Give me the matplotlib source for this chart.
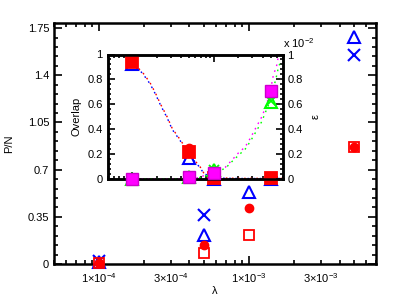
import matplotlib
matplotlib.use("Agg")
import matplotlib.pyplot as plt
import numpy as np
from matplotlib.ticker import FixedLocator, LogLocator, FuncFormatter, NullFormatter, MultipleLocator

plt.rcParams['font.family'] = ['Liberation Sans', 'DejaVu Sans']
plt.rcParams['font.size'] = 8
plt.rcParams['mathtext.fontset'] = 'custom'
plt.rcParams['mathtext.rm'] = 'Liberation Sans'

# ---- data ----
lam = [1e-4, 5e-4, 1e-3, 5e-3]

# main panel: P/N
pn_blue_tri = [0.015, 0.215, 0.536, 1.685]
pn_blue_x = [0.025, 0.363, 0.95, 1.55]
pn_red_circ = [0.01, 0.141, 0.413, 0.87]
pn_red_sq = [0.005, 0.08, 0.215, 0.87]

# inset: Overlap
ov_red_circ = [0.94, 0.245, 0.01, 0.01]
ov_red_sq = [0.94, 0.22, 0.01, 0.01]
ov_blue_tri = [0.925, 0.165, 0.0, 0.0]
ov_blue_x = [0.93, 0.20, 0.0, 0.0]

# inset: epsilon (absolute units)
eps_mag_sq = [0.0, 0.0002, 0.0005, 0.0071]
eps_green_tri = [0.0, 0.0002, 0.0007, 0.0062]
eps_green_x = [0.0, 0.0002, 0.0007, 0.0063]

# dotted fit curves
ov_curve_lam = [1.0e-4, 1.34e-4, 1.66e-4, 1.95e-4, 2.24e-4, 2.70e-4, 3.11e-4, 3.93e-4,
                5.06e-4, 6.89e-4, 7.55e-4, 1.0e-3, 2.0e-3, 5.0e-3, 7.0e-3]
ov_curve_red = [0.94, 0.858, 0.774, 0.686, 0.60, 0.498, 0.406, 0.312,
                0.20, 0.094, 0.05, 0.01, 0.005, 0.005, 0.005]
ov_curve_blue = [0.93, 0.850, 0.765, 0.678, 0.592, 0.490, 0.398, 0.304,
                 0.19, 0.088, 0.045, 0.008, 0.004, 0.004, 0.004]

eps_curve_lam = [1.0e-4, 3.0e-4, 6.0e-4, 7.9e-4, 1.39e-3, 1.68e-3, 2.02e-3, 2.44e-3,
                 2.81e-3, 3.38e-3, 3.89e-3, 4.35e-3, 4.91e-3, 5.39e-3, 5.93e-3, 6.21e-3, 6.5e-3]
eps_curve_mag = [0.0, 0.0, 0.00005, 0.0003, 0.00094, 0.00152, 0.0021, 0.00258,
                 0.00326, 0.00424, 0.00498, 0.00578, 0.0069, 0.0083, 0.0091, 0.0098, 0.0102]
eps_curve_green = [0.0, 0.0, 0.00003, 0.00025, 0.00085, 0.0014, 0.0019, 0.0024,
                   0.0030, 0.0039, 0.0046, 0.0054, 0.0062, 0.0072, 0.0083, 0.0089, 0.0093]

yticks_main = [0, 0.35, 0.7, 1.05, 1.4, 1.75]
yticklabels_main = ['0', '0.35', '0.7', '1.05', '1.4', '1.75']
xticks_labeled = {1e-4: r'1$\times$10$^{-4}$', 3e-4: r'3$\times$10$^{-4}$',
                  1e-3: r'1$\times$10$^{-3}$', 3e-3: r'3$\times$10$^{-3}$'}
inset_ticks = [0, 0.2, 0.4, 0.6, 0.8, 1.0]
inset_labels = ['0', '0.2', '0.4', '0.6', '0.8', '1']

W, H = 415, 298
fig = plt.figure(figsize=(W / 100, H / 100), dpi=100)

# ---- main axes ----
ax = fig.add_axes([54 / W, 1 - 264 / H, (376 - 54) / W, (264 - 22.7) / H])
ax.set_xscale('log')
ax.set_xlim(5e-5, 7e-3)
ax.set_ylim(0, 1.79)

blue = '#0000ff'
red = '#ff0000'
mag = '#ff00ff'
green = '#00ff00'

ax.plot(lam, pn_blue_tri, ls='none', marker='^', ms=9, mfc='none', mec=blue, mew=1.5, clip_on=False, zorder=3)
ax.plot(lam, pn_blue_x, ls='none', marker='x', ms=8, mec=blue, mew=1.5, clip_on=False, zorder=3)
ax.plot(lam, pn_red_sq, ls='none', marker='s', ms=7, mfc='none', mec=red, mew=1.3, clip_on=False, zorder=3)
ax.plot(lam, pn_red_circ, ls='none', marker='o', ms=6, mfc=red, mec=red, clip_on=False, zorder=3)

ax.xaxis.set_major_locator(FixedLocator([1e-4, 1e-3]))
ax.xaxis.set_minor_locator(LogLocator(base=10, subs=np.arange(2, 10)))
def fmt(v, pos):
    for k, s in xticks_labeled.items():
        if abs(v - k) / k < 1e-6:
            return s
    return ''
ax.xaxis.set_major_formatter(FuncFormatter(fmt))
ax.xaxis.set_minor_formatter(FuncFormatter(fmt))
ax.set_yticks(yticks_main)
ax.set_yticklabels(yticklabels_main)
ax.yaxis.set_minor_locator(MultipleLocator(0.07))
ax.tick_params(which='both', direction='in', top=True, right=True, width=1.2)
ax.tick_params(which='major', length=6)
ax.tick_params(which='minor', length=3)
ax.tick_params(axis='x', which='both', pad=5)
for s in ax.spines.values():
    s.set_linewidth(1.8)
ax.set_xlabel('λ', labelpad=1)
ax.set_ylabel('P/N', labelpad=10)

# ---- inset ----
ins = fig.add_axes([107.5 / W, 1 - 179 / H, (282.5 - 107.5) / W, (179 - 54.5) / H])
ins.set_facecolor('white')
ins.set_xscale('log')
ins.set_xlim(5e-5, 7e-3)
ins.set_ylim(0, 1)
ins.xaxis.set_major_locator(LogLocator(base=10))
ins.xaxis.set_minor_locator(LogLocator(base=10, subs=np.arange(2, 10)))
ins.xaxis.set_major_formatter(NullFormatter())
ins.xaxis.set_minor_formatter(NullFormatter())
ins.set_yticks(inset_ticks)
ins.set_yticklabels(inset_labels)
ins.yaxis.set_minor_locator(MultipleLocator(0.04))
ins.tick_params(which='both', direction='in', top=True, width=1.2)
ins.tick_params(which='major', length=5)
ins.tick_params(which='minor', length=2.5)
for s in ins.spines.values():
    s.set_linewidth(1.8)
ins.set_ylabel('Overlap', labelpad=4)

dots = (0, (1.2, 3.2))
dots2 = (2, (1.2, 3.2))
ins.plot(ov_curve_lam, ov_curve_blue, ls=dots, lw=1.0, color=blue, zorder=2)
ins.plot(ov_curve_lam, ov_curve_red, ls=dots2, lw=1.0, color=red, zorder=2)
ins.plot(lam, ov_blue_tri, ls='none', marker='^', ms=9, mfc='none', mec=blue, mew=1.5, clip_on=False, zorder=4)
ins.plot(lam, ov_blue_x, ls='none', marker='x', ms=7, mec=blue, mew=1.3, clip_on=False, zorder=4)
ins.plot(lam, ov_red_sq, ls='none', marker='s', ms=8, mfc=red, mec=red, mew=1.3, clip_on=False, zorder=4)
ins.plot(lam, ov_red_circ, ls='none', marker='o', ms=6, mfc=red, mec=red, clip_on=False, zorder=4)

ins2 = ins.twinx()
ins2.set_ylim(0, 1)
ins2.set_yticks(inset_ticks)
ins2.set_yticklabels(inset_labels)
ins2.yaxis.set_minor_locator(MultipleLocator(0.04))
ins2.tick_params(which='both', direction='in', width=1.2)
ins2.tick_params(which='major', length=5)
ins2.tick_params(which='minor', length=2.5)
for s in ins2.spines.values():
    s.set_linewidth(1.8)
ins2.set_ylabel('ε', labelpad=6)
ins2.text(1.0, 1.035, r'x 10$^{-2}$', transform=ins2.transAxes, ha='left', va='bottom')

sc = 1e-2
ins2.plot(eps_curve_lam, np.array(eps_curve_green) / sc, ls=dots, lw=1.0, color=green, zorder=2)
ins2.plot(eps_curve_lam, np.array(eps_curve_mag) / sc, ls=dots2, lw=1.0, color=mag, zorder=2)
ins2.plot(lam, np.array(eps_green_tri) / sc, ls='none', marker='^', ms=9, mfc='none', mec=green, mew=1.5, clip_on=False, zorder=4)
ins2.plot(lam, np.array(eps_green_x) / sc, ls='none', marker='x', ms=7, mec=green, mew=1.3, clip_on=False, zorder=4)
ins2.plot(lam, np.array(eps_mag_sq) / sc, ls='none', marker='s', ms=8, mfc=mag, mec='#cc00cc', mew=1.0, clip_on=False, zorder=5)

fig.savefig('out.png', dpi=100)
